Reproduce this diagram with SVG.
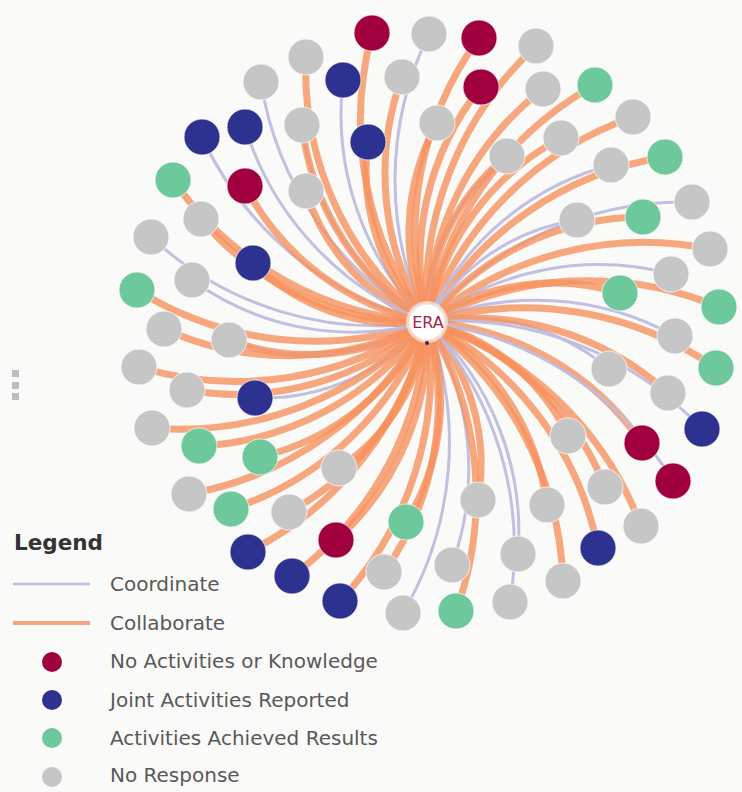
<svg xmlns="http://www.w3.org/2000/svg" width="742" height="792" viewBox="0 0 742 792">
<style>
.o{fill:none;stroke:#F6925E;stroke-opacity:.8;stroke-width:7;vector-effect:non-scaling-stroke}
.p{fill:none;stroke:#BEBCE0;stroke-opacity:.95;stroke-width:3;vector-effect:non-scaling-stroke}
.node circle{stroke:#fff;stroke-opacity:.7;stroke-width:1}
.M{fill:#A1003F}.B{fill:#2D3190}.G{fill:#6DC89B}.N{fill:#C6C6C6}
.lt{font-family:"DejaVu Sans","Liberation Sans",sans-serif;font-size:20px;fill:#595959}
</style>
<rect width="742" height="792" fill="#FAFAF8"/>
<g fill="#BDBDBD"><rect x="12" y="370" width="7" height="7"/><rect x="12" y="382" width="7" height="7"/><rect x="12" y="393" width="7" height="7"/></g>
<g id="connectors">
<path class="o" d="M0 0A1.15 1.15 0 0 1 1 0" transform="matrix(-55 -289 289 -55 427 322)"/>
<path class="o" d="M0 0A1.1 1.1 0 0 1 1 0" transform="matrix(-121 -265 265 -121 427 322)"/>
<path class="p" d="M0 0A1.15 1.15 0 0 1 1 0" transform="matrix(-166 -240 240 -166 427 322)"/>
<path class="p" d="M0 0A1.15 1.15 0 0 1 1 0" transform="matrix(-84 -242 242 -84 427 322)"/>
<path class="o" d="M0 0A1.15 1.15 0 0 1 1 0" transform="matrix(-25 -245 245 -25 427 322)"/>
<path class="p" d="M0 0A1.15 1.15 0 0 1 1 0" transform="matrix(-125 -197 197 -125 427 322)"/>
<path class="o" d="M0 0A1.15 1.15 0 0 1 1 0" transform="matrix(-125 -197 197 -125 427 322)"/>
<path class="o" d="M0 0A1.15 1.15 0 0 1 1 0" transform="matrix(-59 -180 180 -59 427 322)"/>
<path class="o" d="M0 0A1.15 1.15 0 0 1 1 0" transform="matrix(-121 -131 131 -121 427 322)"/>
<path class="p" d="M0 0A1.15 1.15 0 0 1 1 0" transform="matrix(-225 -185 185 -225 427 322)"/>
<path class="p" d="M0 0A1.15 1.15 0 0 1 1 0" transform="matrix(-182 -195 195 -182 427 322)"/>
<path class="o" d="M0 0A1.15 1.15 0 0 1 1 0" transform="matrix(-182 -136 136 -182 427 322)"/>
<path class="o" d="M0 0A1.15 1.15 0 0 1 1 0" transform="matrix(-254 -142 142 -254 427 322)"/>
<path class="o" d="M0 0A1.15 1.15 0 0 1 1 0" transform="matrix(-226 -103 103 -226 427 322)"/>
<path class="p" d="M0 0A1.15 1.15 0 0 1 1 0" transform="matrix(-276 -85 85 -276 427 322)"/>
<path class="o" d="M0 0A1.15 1.15 0 0 1 1 0" transform="matrix(-174 -59 59 -174 427 322)"/>
<path class="p" d="M0 0A1.15 1.15 0 0 1 1 0" transform="matrix(2 -288 288 2 427 322)"/>
<path class="o" d="M0 0A1.15 1.15 0 0 1 1 0" transform="matrix(52 -284 284 52 427 322)"/>
<path class="o" d="M0 0A1.15 1.15 0 0 1 1 0" transform="matrix(109 -276 276 109 427 322)"/>
<path class="o" d="M0 0A1.15 1.15 0 0 1 1 0" transform="matrix(54 -235 235 54 427 322)"/>
<path class="o" d="M0 0A1.15 1.15 0 0 1 1 0" transform="matrix(10 -199 199 10 427 322)"/>
<path class="o" d="M0 0A1.15 1.15 0 0 1 1 0" transform="matrix(116 -233 233 116 427 322)"/>
<path class="o" d="M0 0A1.15 1.15 0 0 1 1 0" transform="matrix(168 -237 237 168 427 322)"/>
<path class="p" d="M0 0A1.15 1.15 0 0 1 1 0" transform="matrix(80 -166 166 80 427 322)"/>
<path class="o" d="M0 0A1.15 1.15 0 0 1 1 0" transform="matrix(80 -166 166 80 427 322)"/>
<path class="o" d="M0 0A1.15 1.15 0 0 1 1 0" transform="matrix(134 -184 184 134 427 322)"/>
<path class="o" d="M0 0A1.15 1.15 0 0 1 1 0" transform="matrix(206 -205 205 206 427 322)"/>
<path class="o" d="M0 0A1.15 1.15 0 0 1 1 0" transform="matrix(238 -165 165 238 427 322)"/>
<path class="p" d="M0 0A1.15 1.15 0 0 1 1 0" transform="matrix(184 -157 157 184 427 322)"/>
<path class="p" d="M0 0A1.15 1.15 0 0 1 1 0" transform="matrix(265 -120 120 265 427 322)"/>
<path class="o" d="M0 0A1.15 1.15 0 0 1 1 0" transform="matrix(216 -105 105 216 427 322)"/>
<path class="p" d="M0 0A1.15 1.15 0 0 1 1 0" transform="matrix(150 -102 102 150 427 322)"/>
<path class="o" d="M0 0A1.15 1.15 0 0 1 1 0" transform="matrix(283 -73 73 283 427 322)"/>
<path class="p" d="M0 0A1.15 1.15 0 0 1 1 0" transform="matrix(244 -48 48 244 427 322)"/>
<path class="o" d="M0 0A1.15 1.15 0 0 1 1 0" transform="matrix(193 -29 29 193 427 322)"/>
<path class="o" d="M0 0A1.15 1.15 0 0 1 1 0" transform="matrix(292 -15 15 292 427 322)"/>
<path class="p" d="M0 0A1.15 1.15 0 0 1 1 0" transform="matrix(248 14 -14 248 427 322)"/>
<path class="o" d="M0 0A1.15 1.15 0 0 1 1 0" transform="matrix(289 46 -46 289 427 322)"/>
<path class="p" d="M0 0A1.15 1.15 0 0 1 1 0" transform="matrix(182 47 -47 182 427 322)"/>
<path class="o" d="M0 0A1.15 1.15 0 0 1 1 0" transform="matrix(241 71 -71 241 427 322)"/>
<path class="p" d="M0 0A1.15 1.15 0 0 1 1 0" transform="matrix(275 107 -107 275 427 322)"/>
<path class="o" d="M0 0A1.15 1.15 0 0 1 1 0" transform="matrix(215 121 -121 215 427 322)"/>
<path class="o" d="M0 0A1.15 1.15 0 0 1 1 0" transform="matrix(141 114 -114 141 427 322)"/>
<path class="p" d="M0 0A1.15 1.15 0 0 1 1 0" transform="matrix(246 159 -159 246 427 322)"/>
<path class="o" d="M0 0A1.15 1.15 0 0 1 1 0" transform="matrix(178 165 -165 178 427 322)"/>
<path class="o" d="M0 0A1.15 1.15 0 0 1 1 0" transform="matrix(214 204 -204 214 427 322)"/>
<path class="o" d="M0 0A1.15 1.15 0 0 1 1 0" transform="matrix(120 183 -183 120 427 322)"/>
<path class="o" d="M0 0A1.15 1.15 0 0 1 1 0" transform="matrix(171 226 -226 171 427 322)"/>
<path class="o" d="M0 0A1.15 1.15 0 0 1 1 0" transform="matrix(51 178 -178 51 427 322)"/>
<path class="p" d="M0 0A1.15 1.15 0 0 1 1 0" transform="matrix(91 232 -232 91 427 322)"/>
<path class="o" d="M0 0A1.15 1.15 0 0 1 1 0" transform="matrix(136 259 -259 136 427 322)"/>
<path class="p" d="M0 0A1.15 1.15 0 0 1 1 0" transform="matrix(25 243 -243 25 427 322)"/>
<path class="p" d="M0 0A1.15 1.15 0 0 1 1 0" transform="matrix(83 280 -280 83 427 322)"/>
<path class="o" d="M0 0A1.15 1.15 0 0 1 1 0" transform="matrix(29 289 -289 29 427 322)"/>
<path class="p" d="M0 0A1.15 1.15 0 0 1 1 0" transform="matrix(-24 291 -291 -24 427 322)"/>
<path class="o" d="M0 0A1.15 1.15 0 0 1 1 0" transform="matrix(-290 -32 32 -290 427 322)"/>
<path class="p" d="M0 0A1.15 1.15 0 0 1 1 0" transform="matrix(-235 -42 42 -235 427 322)"/>
<path class="o" d="M0 0A1.15 1.15 0 0 1 1 0" transform="matrix(-263 7 -7 -263 427 322)"/>
<path class="p" d="M0 0A1.15 1.15 0 0 1 1 0" transform="matrix(-198 18 -18 -198 427 322)"/>
<path class="o" d="M0 0A1.15 1.15 0 0 1 1 0" transform="matrix(-198 18 -18 -198 427 322)"/>
<path class="o" d="M0 0A1.15 1.15 0 0 1 1 0" transform="matrix(-288 45 -45 -288 427 322)"/>
<path class="o" d="M0 0A1.15 1.15 0 0 1 1 0" transform="matrix(-240 68 -68 -240 427 322)"/>
<path class="p" d="M0 0A1.15 1.15 0 0 1 1 0" transform="matrix(-172 76 -76 -172 427 322)"/>
<path class="o" d="M0 0A1.15 1.15 0 0 1 1 0" transform="matrix(-275 106 -106 -275 427 322)"/>
<path class="o" d="M0 0A1.15 1.15 0 0 1 1 0" transform="matrix(-228 124 -124 -228 427 322)"/>
<path class="o" d="M0 0A1.15 1.15 0 0 1 1 0" transform="matrix(-167 135 -135 -167 427 322)"/>
<path class="o" d="M0 0A1.15 1.15 0 0 1 1 0" transform="matrix(-88 146 -146 -88 427 322)"/>
<path class="o" d="M0 0A1.15 1.15 0 0 1 1 0" transform="matrix(-238 172 -172 -238 427 322)"/>
<path class="o" d="M0 0A1.15 1.15 0 0 1 1 0" transform="matrix(-196 187 -187 -196 427 322)"/>
<path class="o" d="M0 0A1.15 1.15 0 0 1 1 0" transform="matrix(-138 190 -190 -138 427 322)"/>
<path class="o" d="M0 0A1.15 1.15 0 0 1 1 0" transform="matrix(-21 200 -200 -21 427 322)"/>
<path class="o" d="M0 0A1.15 1.15 0 0 1 1 0" transform="matrix(-91 218 -218 -91 427 322)"/>
<path class="o" d="M0 0A1.15 1.15 0 0 1 1 0" transform="matrix(-179 230 -230 -179 427 322)"/>
<path class="o" d="M0 0A1.15 1.15 0 0 1 1 0" transform="matrix(-135 254 -254 -135 427 322)"/>
<path class="o" d="M0 0A1.15 1.15 0 0 1 1 0" transform="matrix(-87 279 -279 -87 427 322)"/>
<path class="o" d="M0 0A1.15 1.15 0 0 1 1 0" transform="matrix(-43 250 -250 -43 427 322)"/>
</g>
<g id="n1" class="node"><circle class="M" cx="372" cy="33" r="18"/></g>
<g id="n2" class="node"><circle class="N" cx="306" cy="57" r="18"/></g>
<g id="n3" class="node"><circle class="N" cx="261" cy="82" r="18"/></g>
<g id="n4" class="node"><circle class="B" cx="343" cy="80" r="18"/></g>
<g id="n5" class="node"><circle class="N" cx="402" cy="77" r="18"/></g>
<g id="n6" class="node"><circle class="N" cx="302" cy="125" r="18"/></g>
<g id="n7" class="node"><circle class="B" cx="368" cy="142" r="18"/></g>
<g id="n8" class="node"><circle class="N" cx="306" cy="191" r="18"/></g>
<g id="n9" class="node"><circle class="B" cx="202" cy="137" r="18"/></g>
<g id="n10" class="node"><circle class="B" cx="245" cy="127" r="18"/></g>
<g id="n11" class="node"><circle class="M" cx="245" cy="186" r="18"/></g>
<g id="n12" class="node"><circle class="G" cx="173" cy="180" r="18"/></g>
<g id="n13" class="node"><circle class="N" cx="201" cy="219" r="18"/></g>
<g id="n14" class="node"><circle class="N" cx="151" cy="237" r="18"/></g>
<g id="n15" class="node"><circle class="B" cx="253" cy="263" r="18"/></g>
<g id="n16" class="node"><circle class="N" cx="429" cy="34" r="18"/></g>
<g id="n17" class="node"><circle class="M" cx="479" cy="38" r="18"/></g>
<g id="n18" class="node"><circle class="N" cx="536" cy="46" r="18"/></g>
<g id="n19" class="node"><circle class="M" cx="481" cy="87" r="18"/></g>
<g id="n20" class="node"><circle class="N" cx="437" cy="123" r="18"/></g>
<g id="n21" class="node"><circle class="N" cx="543" cy="89" r="18"/></g>
<g id="n22" class="node"><circle class="G" cx="595" cy="85" r="18"/></g>
<g id="n23" class="node"><circle class="N" cx="507" cy="156" r="18"/></g>
<g id="n24" class="node"><circle class="N" cx="561" cy="138" r="18"/></g>
<g id="n25" class="node"><circle class="N" cx="633" cy="117" r="18"/></g>
<g id="n26" class="node"><circle class="G" cx="665" cy="157" r="18"/></g>
<g id="n27" class="node"><circle class="N" cx="611" cy="165" r="18"/></g>
<g id="n28" class="node"><circle class="N" cx="692" cy="202" r="18"/></g>
<g id="n29" class="node"><circle class="G" cx="643" cy="217" r="18"/></g>
<g id="n30" class="node"><circle class="N" cx="577" cy="220" r="18"/></g>
<g id="n31" class="node"><circle class="N" cx="710" cy="249" r="18"/></g>
<g id="n32" class="node"><circle class="N" cx="671" cy="274" r="18"/></g>
<g id="n33" class="node"><circle class="G" cx="620" cy="293" r="18"/></g>
<g id="n34" class="node"><circle class="G" cx="719" cy="307" r="18"/></g>
<g id="n35" class="node"><circle class="N" cx="675" cy="336" r="18"/></g>
<g id="n36" class="node"><circle class="G" cx="716" cy="368" r="18"/></g>
<g id="n37" class="node"><circle class="N" cx="609" cy="369" r="18"/></g>
<g id="n38" class="node"><circle class="N" cx="668" cy="393" r="18"/></g>
<g id="n39" class="node"><circle class="B" cx="702" cy="429" r="18"/></g>
<g id="n40" class="node"><circle class="M" cx="642" cy="443" r="18"/></g>
<g id="n41" class="node"><circle class="N" cx="568" cy="436" r="18"/></g>
<g id="n42" class="node"><circle class="M" cx="673" cy="481" r="18"/></g>
<g id="n43" class="node"><circle class="N" cx="605" cy="487" r="18"/></g>
<g id="n44" class="node"><circle class="N" cx="641" cy="526" r="18"/></g>
<g id="n45" class="node"><circle class="N" cx="547" cy="505" r="18"/></g>
<g id="n46" class="node"><circle class="B" cx="598" cy="548" r="18"/></g>
<g id="n47" class="node"><circle class="N" cx="478" cy="500" r="18"/></g>
<g id="n48" class="node"><circle class="N" cx="518" cy="554" r="18"/></g>
<g id="n49" class="node"><circle class="N" cx="563" cy="581" r="18"/></g>
<g id="n50" class="node"><circle class="N" cx="452" cy="565" r="18"/></g>
<g id="n51" class="node"><circle class="N" cx="510" cy="602" r="18"/></g>
<g id="n52" class="node"><circle class="G" cx="456" cy="611" r="18"/></g>
<g id="n53" class="node"><circle class="N" cx="403" cy="613" r="18"/></g>
<g id="n54" class="node"><circle class="G" cx="137" cy="290" r="18"/></g>
<g id="n55" class="node"><circle class="N" cx="192" cy="280" r="18"/></g>
<g id="n56" class="node"><circle class="N" cx="164" cy="329" r="18"/></g>
<g id="n57" class="node"><circle class="N" cx="229" cy="340" r="18"/></g>
<g id="n58" class="node"><circle class="N" cx="139" cy="367" r="18"/></g>
<g id="n59" class="node"><circle class="N" cx="187" cy="390" r="18"/></g>
<g id="n60" class="node"><circle class="B" cx="255" cy="398" r="18"/></g>
<g id="n61" class="node"><circle class="N" cx="152" cy="428" r="18"/></g>
<g id="n62" class="node"><circle class="G" cx="199" cy="446" r="18"/></g>
<g id="n63" class="node"><circle class="G" cx="260" cy="457" r="18"/></g>
<g id="n64" class="node"><circle class="N" cx="339" cy="468" r="18"/></g>
<g id="n65" class="node"><circle class="N" cx="189" cy="494" r="18"/></g>
<g id="n66" class="node"><circle class="G" cx="231" cy="509" r="18"/></g>
<g id="n67" class="node"><circle class="N" cx="289" cy="512" r="18"/></g>
<g id="n68" class="node"><circle class="G" cx="406" cy="522" r="18"/></g>
<g id="n69" class="node"><circle class="M" cx="336" cy="540" r="18"/></g>
<g id="n70" class="node"><circle class="B" cx="248" cy="552" r="18"/></g>
<g id="n71" class="node"><circle class="B" cx="292" cy="576" r="18"/></g>
<g id="n72" class="node"><circle class="B" cx="340" cy="601" r="18"/></g>
<g id="n73" class="node"><circle class="N" cx="384" cy="572" r="18"/></g>
<g id="era">
<circle cx="427" cy="322" r="21" fill="#fff" fill-opacity=".55"/>
<circle cx="427" cy="322" r="18" fill="#fff" stroke="#EFE6E0" stroke-width="1.5"/>
<text x="428" y="328" text-anchor="middle" font-family="DejaVu Sans, sans-serif" font-size="16" fill="#A51E45">ERA</text>
<circle cx="427" cy="343" r="2" fill="#3B1E7C"/>
</g>
<g id="legend">
<text x="14" y="550" font-family="DejaVu Sans, sans-serif" font-size="21.5" font-weight="bold" fill="#333">Legend</text>
<line x1="13" y1="584" x2="90" y2="584" stroke="#BEBCE0" stroke-width="2.5"/>
<text class="lt" x="110" y="591">Coordinate</text>
<line x1="13" y1="623" x2="90" y2="623" stroke="#F7A27A" stroke-width="4"/>
<text class="lt" x="110" y="630">Collaborate</text>
<circle class="M" cx="52" cy="662" r="10"/>
<text class="lt" x="110" y="668">No Activities or Knowledge</text>
<circle class="B" cx="52" cy="700" r="10"/>
<text class="lt" x="110" y="707">Joint Activities Reported</text>
<circle class="G" cx="52" cy="738" r="10"/>
<text class="lt" x="110" y="745">Activities Achieved Results</text>
<circle class="N" cx="52" cy="777" r="10"/>
<text class="lt" x="110" y="782">No Response</text>
</g>
</svg>
